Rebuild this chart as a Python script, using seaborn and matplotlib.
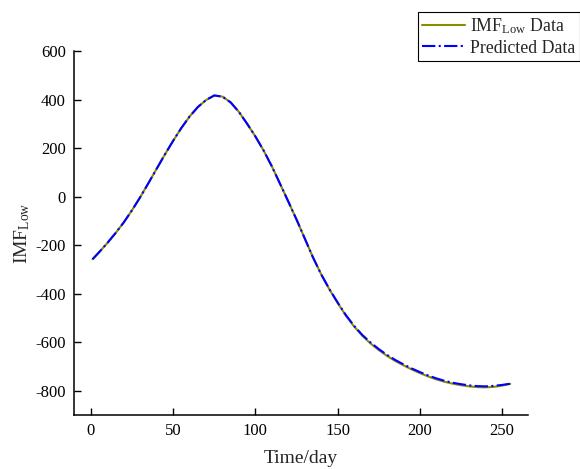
import numpy as np
import pandas as pd
import matplotlib
matplotlib.use("Agg")
import matplotlib.pyplot as plt
import seaborn as sns

days = [1, 5, 10, 15, 20, 25, 30, 35, 40, 45, 50, 55, 60, 65, 70, 75, 80, 85, 90,
        95, 100, 105, 110, 115, 120, 125, 130, 135, 140, 145, 150, 155, 160, 165,
        170, 175, 180, 185, 190, 195, 200, 205, 210, 215, 220, 225, 230, 235, 240,
        245, 250, 255]
imf_low = [-258, -229, -191, -150, -106, -56, -2, 56, 115, 174, 230, 283, 330, 369,
           398, 416, 412, 388, 349, 300, 248, 190, 125, 53, -20, -94, -172, -250,
           -320, -382, -438, -490, -535, -573, -605, -632, -656, -677, -695, -712,
           -727, -741, -753, -763, -771, -777, -782, -785, -786, -784, -779, -772]
predicted = [-258, -229, -191, -150, -106, -56, -2, 56, 115, 174, 230, 283, 330, 369,
             398, 417, 412, 388, 349, 300, 248, 190, 125, 53, -20, -94, -172, -250,
             -320, -381, -436, -488, -532, -570, -601, -628, -652, -673, -691, -708,
             -723, -737, -749, -759, -767, -773, -778, -781, -782, -780, -776, -771]

lab1 = "IMF$_{\\mathrm{Low}}$ Data"
lab2 = "Predicted Data"
df1 = pd.DataFrame({"day": days, "value": imf_low})
df2 = pd.DataFrame({"day": days, "value": predicted})

sns.set_style("ticks")
plt.rcParams['font.family'] = ['Liberation Serif', 'DejaVu Serif']
plt.rcParams['mathtext.fontset'] = 'custom'
plt.rcParams['mathtext.rm'] = 'Liberation Serif'
plt.rcParams['mathtext.it'] = 'Liberation Serif:italic'
plt.rcParams['axes.unicode_minus'] = False

fig = plt.figure(figsize=(5.8, 4.69), dpi=100)
ax = fig.add_axes([74/580, 1-415/469, (528-74)/580, (415-51)/469])

sns.lineplot(data=df1, x="day", y="value", ax=ax, color="#8C8C00",
             lw=1.5, label=lab1)
sns.lineplot(data=df2, x="day", y="value", ax=ax, color="#0000FF",
             lw=1.5, linestyle="-.", label=lab2)

ax.set_xlim(-10.3, 265.8)
ax.set_ylim(-900, 600)
ax.set_xticks([0, 50, 100, 150, 200, 250])
ax.set_yticks([-800, -600, -400, -200, 0, 200, 400, 600])
ax.tick_params(direction="in", length=5, width=1, labelsize=12, colors="black", pad=6)
for s in ["top", "right"]:
    ax.spines[s].set_visible(False)
for s in ["left", "bottom"]:
    ax.spines[s].set_linewidth(1.1)
    ax.spines[s].set_color("black")

ax.set_xlabel("Time/day", fontsize=14, labelpad=8)
ax.set_ylabel("IMF$_{\\mathrm{Low}}$", fontsize=14, labelpad=2)

leg = ax.legend(loc="upper left", bbox_to_anchor=(418/580, 1-12/469),
                bbox_transform=fig.transFigure, fontsize=12.8, frameon=True,
                fancybox=False, edgecolor="black", framealpha=1, handlelength=2.4,
                borderpad=0.25, labelspacing=0.2, handletextpad=0.3, borderaxespad=0)
leg.get_frame().set_linewidth(0.8)

fig.savefig("out.png", dpi=100)
